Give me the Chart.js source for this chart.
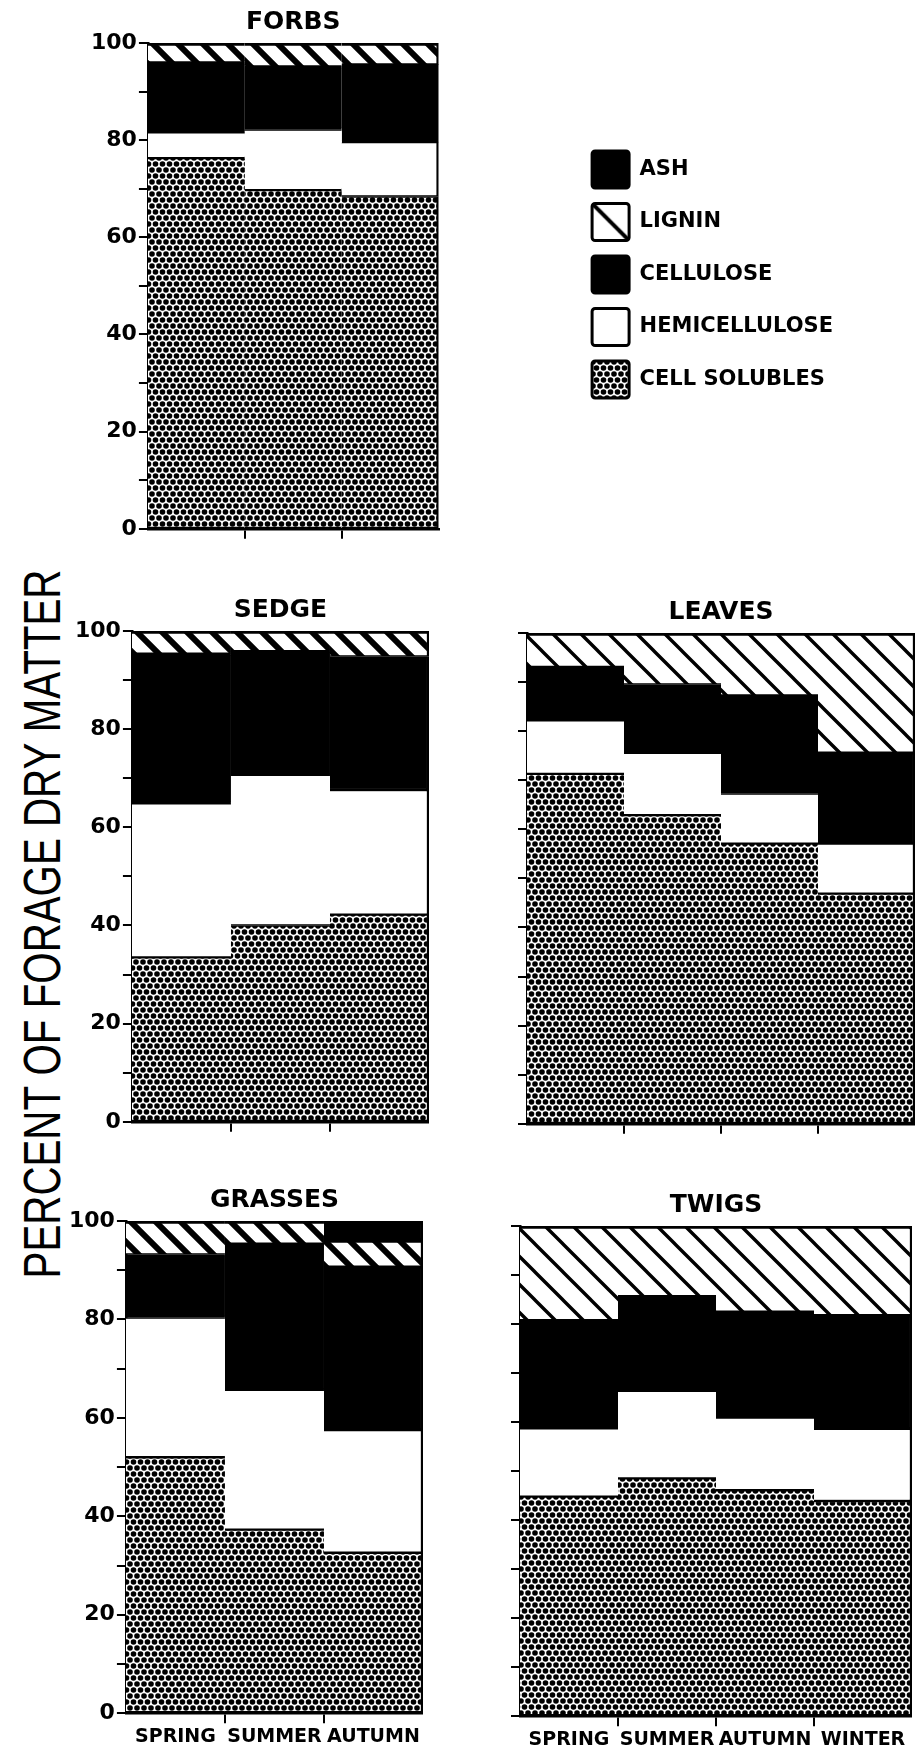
<!DOCTYPE html>
<html>
<head>
<meta charset="utf-8">
<script src="https://cdn.jsdelivr.net/npm/chart.js@4.4.1/dist/chart.umd.min.js"></script>
<style>
  html, body { margin: 0; padding: 0; background: #fff; }
  body { width: 919px; height: 1750px; position: relative; overflow: hidden; }
  canvas { position: absolute; }
  #ytitle {
    position: absolute; left: 42px; top: 924px;
    font-family: "Liberation Sans", Arial, sans-serif; font-size: 51px; color: #000;
    white-space: nowrap; line-height: 1;
    transform: translate(-50%, -50%) rotate(-90deg) scaleX(0.79);
  }
</style>
</head>
<body>
<div id="ytitle">PERCENT OF FORAGE DRY MATTER</div>
<canvas id="forbs"></canvas>
<canvas id="sedge"></canvas>
<canvas id="leaves"></canvas>
<canvas id="grasses"></canvas>
<canvas id="twigs"></canvas>
<script>
// ---- categories and tick labels ----
const seasons3 = ['SPRING', 'SUMMER', 'AUTUMN'];
const seasons4 = ['SPRING', 'SUMMER', 'AUTUMN', 'WINTER'];
const componentNames = ['CELL SOLUBLES', 'HEMICELLULOSE', 'CELLULOSE', 'LIGNIN', 'ASH'];
const yTickLabels = ['0', '20', '40', '60', '80', '100'];

// ---- percent of dry matter, stacked bottom to top ----
const forbsCellSolubles = [76.3, 69.7, 68.4];
const forbsHemicellulose = [5.3, 12.5, 11.2];
const forbsCellulose = [14.4, 13.0, 16.0];
const forbsLignin = [4.0, 4.8, 4.4];
const forbsAsh = [0, 0, 0];

const sedgeCellSolubles = [33.5, 40.0, 42.2];
const sedgeHemicellulose = [31.4, 30.7, 25.4];
const sedgeCellulose = [30.5, 25.2, 27.2];
const sedgeLignin = [4.6, 4.1, 5.2];
const sedgeAsh = [0, 0, 0];

const leavesCellSolubles = [71.3, 62.9, 57.1, 46.9];
const leavesHemicellulose = [10.9, 12.7, 10.2, 10.2];
const leavesCellulose = [10.9, 13.9, 20.0, 18.5];
const leavesLignin = [6.9, 10.5, 12.7, 24.4];
const leavesAsh = [0, 0, 0, 0];

const grassesCellSolubles = [52.0, 37.3, 32.6];
const grassesHemicellulose = [28.4, 28.4, 24.9];
const grassesCellulose = [12.8, 29.7, 33.2];
const grassesLignin = [6.8, 4.6, 5.4];
const grassesAsh = [0, 0, 3.9];

const twigsCellSolubles = [44.8, 48.5, 46.1, 43.9];
const twigsHemicellulose = [13.9, 17.9, 14.8, 14.7];
const twigsCellulose = [22.1, 19.3, 21.6, 23.2];
const twigsLignin = [19.2, 14.3, 17.5, 18.2];
const twigsAsh = [0, 0, 0, 0];

// ---- fills ----
const FONT = "'DejaVu Sans', sans-serif";

function dotPattern() {
  const c = document.createElement('canvas');
  c.width = 7; c.height = 12;
  const g = c.getContext('2d');
  g.fillStyle = '#fff'; g.fillRect(0, 0, 7, 12);
  g.fillStyle = '#000';
  for (const [x, y] of [[3.5, 3], [0, 9], [7, 9]]) {
    g.beginPath(); g.arc(x, y, 2.8, 0, Math.PI * 2); g.fill();
  }
  return g.createPattern(c, 'repeat');
}

function hatchPattern(size, lw) {
  const c = document.createElement('canvas');
  c.width = size; c.height = size;
  const g = c.getContext('2d');
  g.fillStyle = '#fff'; g.fillRect(0, 0, size, size);
  g.strokeStyle = '#000'; g.lineWidth = lw;
  g.beginPath();
  for (const k of [-1, 0, 1]) {
    g.moveTo(k * size - lw, -lw);
    g.lineTo(k * size + size + lw, size + lw);
  }
  g.stroke();
  return g.createPattern(c, 'repeat');
}

const dots = dotPattern();
const heavyHatch = hatchPattern(25, 6);
const lightHatch = hatchPattern(28, 3.4);
const legendHatch = hatchPattern(80, 4);

function fillsFor(hatch) {
  return [dots, '#fff', '#000', hatch, '#000'];
}

// keeps the single legend diagonal running corner to corner of its box
const legendHatchAnchor = {
  id: 'legendHatchAnchor',
  beforeDraw(chart) {
    const lg = chart.legend;
    if (!lg || !lg.legendItems || !lg.legendHitBoxes) return;
    const i = lg.legendItems.findIndex(it => it.text === 'LIGNIN');
    const hb = lg.legendHitBoxes[i];
    if (hb) legendHatch.setTransform(new DOMMatrix([1, 0, 0, 1, hb.left, hb.top]));
  }
};

function makePanel(id, title, labels, series, cfg) {
  const canvas = document.getElementById(id);
  canvas.width = cfg.legend ? 900 : 440;
  canvas.height = 600;
  const fills = fillsFor(cfg.hatch);
  const nCats = labels.length;
  const datasets = componentNames.map((name, i) => ({
    label: name,
    data: series[i],
    backgroundColor: fills[i],
    borderColor: '#000',
    // horizontal edges between layers; only the outermost bar closes the right side
    borderWidth: c => ({
      top: i >= 3 ? 3 : 1.5,
      bottom: 1.5,
      left: 0,
      right: c.dataIndex === nCats - 1 ? 2.5 : 0
    }),
    borderSkipped: false,
    barPercentage: 1,
    categoryPercentage: 1
  }));
  const scales = {
    x: {
      stacked: true,
      grid: {
        offset: true, drawOnChartArea: false, drawTicks: true, tickLength: 10, lineWidth: 2,
        color: c => (c.type !== 'tick' || c.index === 0) ? 'rgba(0,0,0,0)' : '#000'
      },
      border: { display: true, color: '#000', width: 2.5 },
      ticks: {
        display: cfg.xLabels, color: '#000', padding: 2,
        maxRotation: 0, minRotation: 0, autoSkip: false,
        font: { family: FONT, size: 19, weight: 'bold' }
      }
    },
    y: {
      stacked: true, min: 0, max: 100,
      grid: { drawOnChartArea: false, drawTicks: true, tickLength: 9, lineWidth: 2, color: '#000' },
      border: { display: true, color: '#000', width: 2.5 },
      ticks: {
        stepSize: 10, color: '#000', padding: 2, autoSkip: false,
        font: { family: FONT, size: 22, weight: 'bold' },
        callback: v => (cfg.yLabels && yTickLabels.includes(String(v))) ? String(v) : ''
      }
    }
  };
  if (cfg.legend) {
    scales.gap = {
      type: 'linear', position: 'right', display: true,
      grid: { display: false }, border: { display: false }, ticks: { display: false },
      afterFit: s => { s.width = 138; }
    };
  }
  const chart = new Chart(canvas, {
    type: 'bar',
    data: { labels, datasets },
    options: {
      responsive: false, maintainAspectRatio: false, animation: false, devicePixelRatio: 1,
      layout: { padding: 0 },
      scales,
      plugins: {
        tooltip: { enabled: false },
        title: {
          display: true, text: title, fullSize: false, color: '#000',
          font: { family: FONT, size: 25, weight: 'bold' },
          padding: { top: 2, bottom: 6 }
        },
        legend: {
          display: !!cfg.legend, position: 'right', reverse: true, maxWidth: 330,
          labels: {
            boxWidth: 37, boxHeight: 37, padding: 15.5, color: '#000',
            font: { family: FONT, size: 21, weight: 'bold' },
            useBorderRadius: true, borderRadius: 3,
            generateLabels: ch => Chart.defaults.plugins.legend.labels.generateLabels(ch).map(it => ({
              ...it, lineWidth: 3, strokeStyle: '#000',
              fillStyle: it.text === 'LIGNIN' ? legendHatch : it.fillStyle
            }))
          }
        }
      }
    },
    plugins: cfg.legend ? [legendHatchAnchor] : []
  });
  place(chart, cfg.area);
  return chart;
}

// sizes the canvas so that the plotting area covers the given box
function place(chart, box) {
  for (let k = 0; k < 2; k++) {
    const a = chart.chartArea;
    const w = chart.width + (box.r - box.l) - (a.right - a.left);
    const h = chart.height + (box.b - box.t) - (a.bottom - a.top);
    chart.resize(Math.round(w), Math.round(h));
    chart.update('none');
  }
  const a = chart.chartArea;
  chart.canvas.style.left = (box.l - a.left) + 'px';
  chart.canvas.style.top = (box.t - a.top) + 'px';
}

makePanel('forbs', 'FORBS', seasons3,
  [forbsCellSolubles, forbsHemicellulose, forbsCellulose, forbsLignin, forbsAsh],
  { hatch: heavyHatch, yLabels: true, xLabels: false, legend: true, area: { l: 148, t: 43, r: 439, b: 529 } });

makePanel('sedge', 'SEDGE', seasons3,
  [sedgeCellSolubles, sedgeHemicellulose, sedgeCellulose, sedgeLignin, sedgeAsh],
  { hatch: heavyHatch, yLabels: true, xLabels: false, area: { l: 132, t: 631, r: 429, b: 1122 } });

makePanel('leaves', 'LEAVES', seasons4,
  [leavesCellSolubles, leavesHemicellulose, leavesCellulose, leavesLignin, leavesAsh],
  { hatch: lightHatch, yLabels: false, xLabels: false, area: { l: 527, t: 633, r: 915, b: 1124 } });

makePanel('grasses', 'GRASSES', seasons3,
  [grassesCellSolubles, grassesHemicellulose, grassesCellulose, grassesLignin, grassesAsh],
  { hatch: heavyHatch, yLabels: true, xLabels: true, area: { l: 126, t: 1221, r: 423, b: 1713 } });

makePanel('twigs', 'TWIGS', seasons4,
  [twigsCellSolubles, twigsHemicellulose, twigsCellulose, twigsLignin, twigsAsh],
  { hatch: lightHatch, yLabels: false, xLabels: true, area: { l: 520, t: 1226, r: 912, b: 1716 } });
</script>
</body>
</html>
